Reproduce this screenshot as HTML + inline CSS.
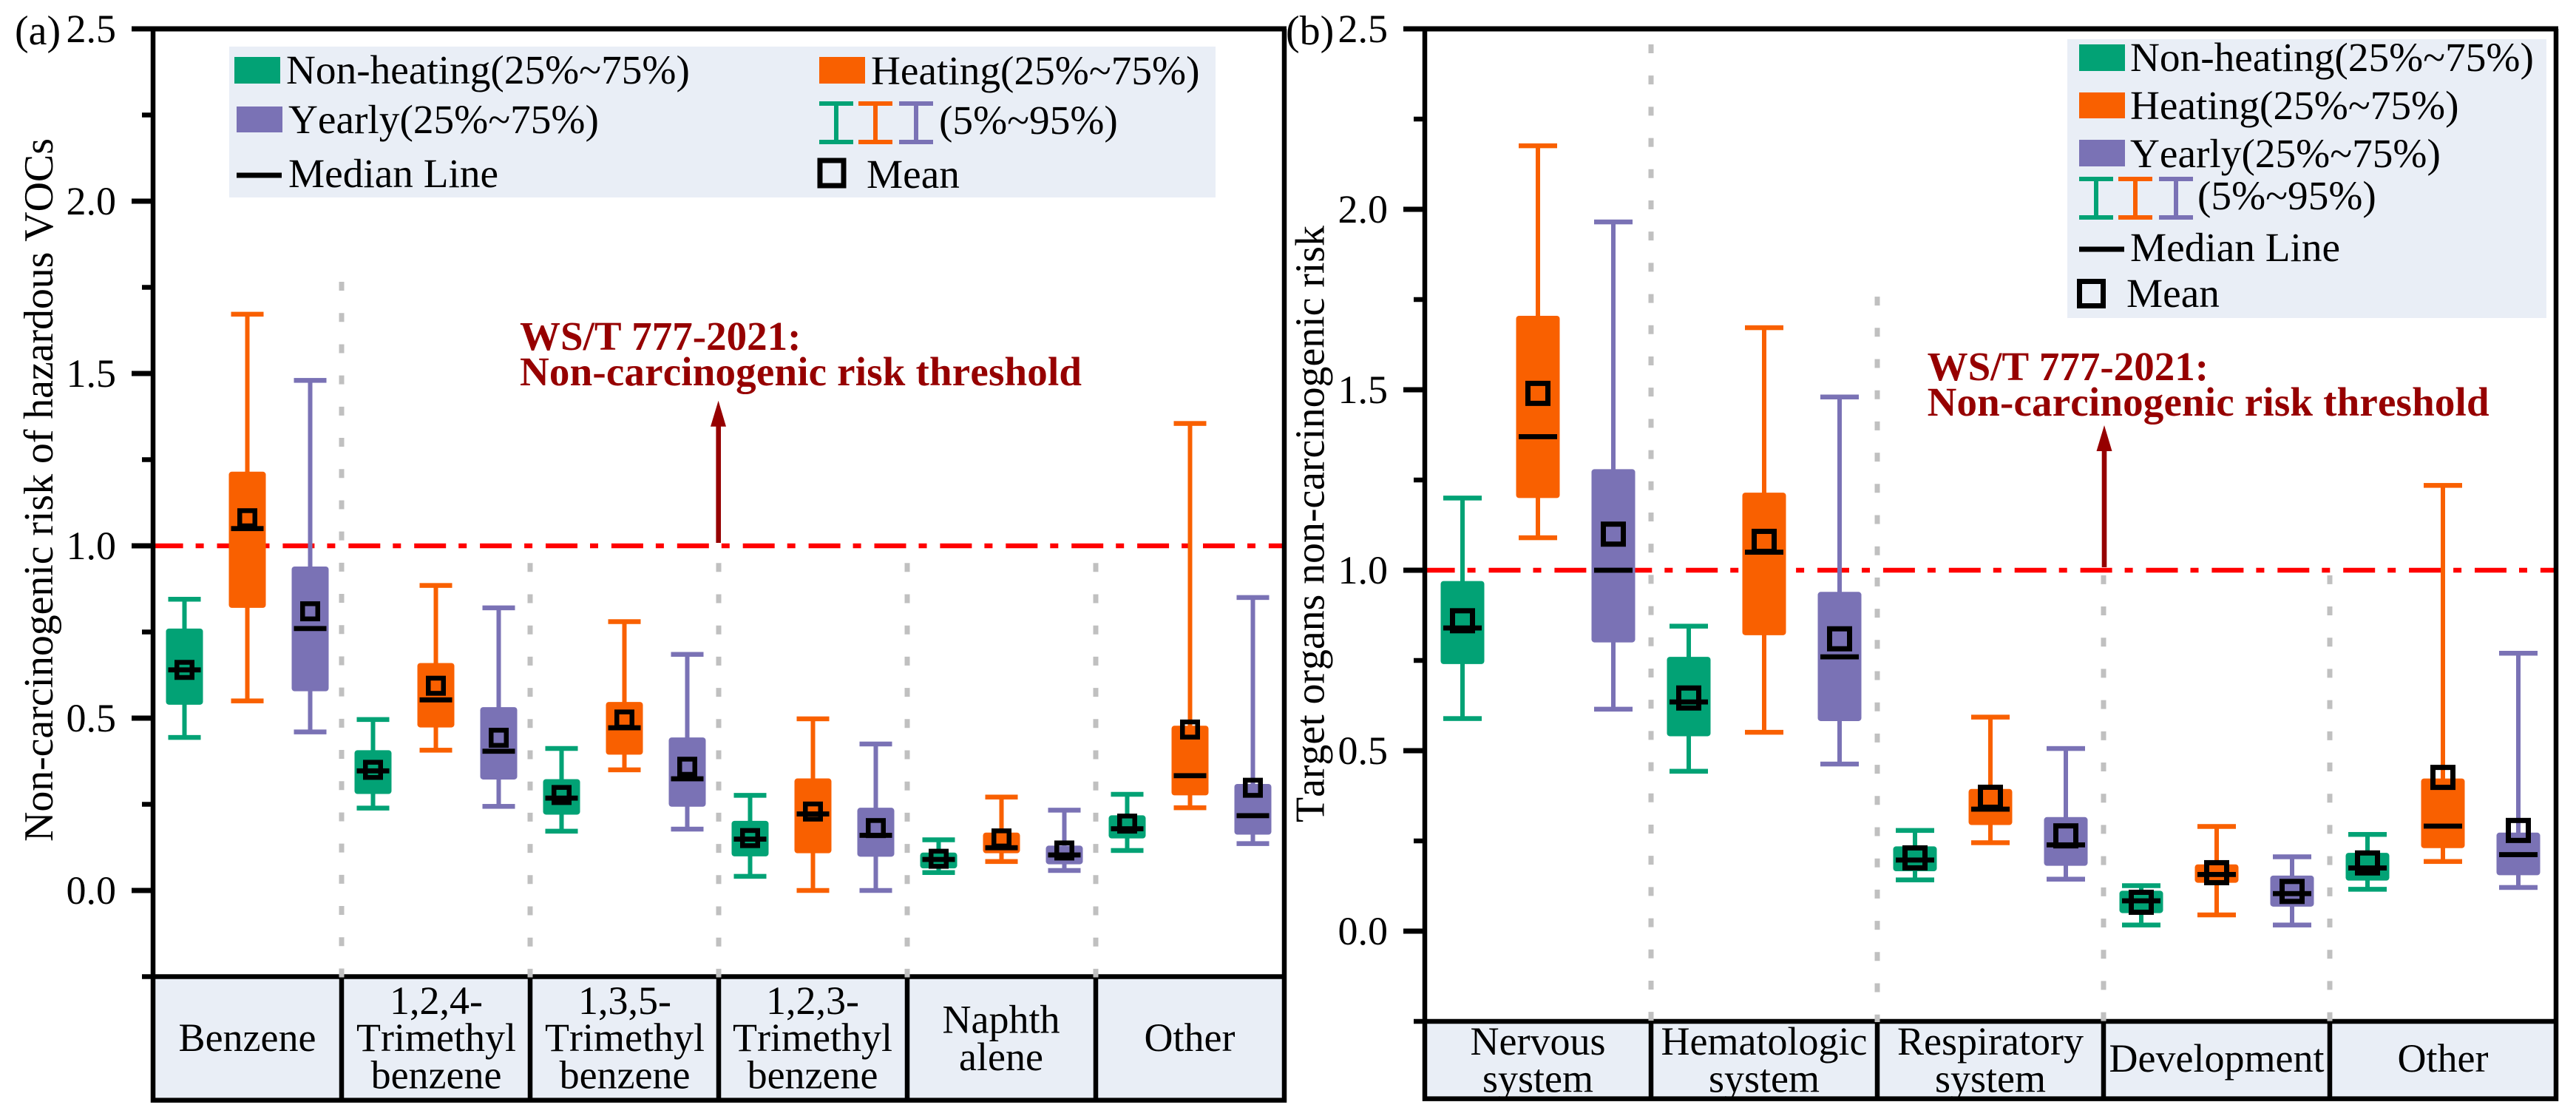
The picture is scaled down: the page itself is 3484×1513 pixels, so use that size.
<!DOCTYPE html>
<html lang="en">
<head>
<meta charset="utf-8">
<title>Non-carcinogenic risk box plots</title>
<style>
html,body{margin:0;padding:0;background:#fff;width:3484px;height:1513px;overflow:hidden}
svg{display:block}
text{font-family:"Liberation Serif",serif;fill:#000;font-kerning:none}
.tick-label,.cat{font-size:54px}
.panel-label{font-size:56px}
.cat{text-anchor:middle}
.leg{font-size:55.3px}
.note{font-size:55px;font-weight:bold;fill:#960000}
.title{font-size:56px}
</style>
</head>
<body>
<svg xmlns="http://www.w3.org/2000/svg" width="3484" height="1513" viewBox="0 0 3484 1513">
<rect width="3484" height="1513" fill="#fff"/>

<g id="panel-a">
  <rect x="207" y="1320" width="1530" height="167" fill="#e9eef6"/>
  <g id="a-marks"></g>
  <g id="a-axes"></g>
  <path d="M971.6 541.7L982 576.7L975 576.7L975 734L968.4 734L968.4 576.7L961 576.7Z" fill="#960000"/>
  <text class="note" x="703" y="473">WS/T 777-2021:</text>
  <text class="note" x="703" y="521" textLength="760">Non-carcinogenic risk threshold</text>
  <text class="title" transform="translate(71 1138) rotate(-90)" textLength="951">Non-carcinogenic risk of hazardous VOCs</text>
  <text class="panel-label" x="20" y="60">(a)</text>

  <g>
    <rect x="310" y="63" width="1334" height="204" fill="#e9eef6"/>
    <rect x="317" y="77" width="62" height="36" fill="#02a275"/>
    <text class="leg" x="387" y="113">Non-heating(25%~75%)</text>
    <rect x="1108" y="77" width="62" height="36" fill="#f96000"/>
    <text class="leg" x="1178" y="114">Heating(25%~75%)</text>
    <rect x="320" y="144" width="62" height="35" fill="#7a72b5"/>
    <text class="leg" x="390" y="180">Yearly(25%~75%)</text>
    <path d="M1108 137h46v6h-20v46h20v6h-46v-6h20v-46h-20z" fill="#02a275"/>
    <path d="M1161 137h46v6h-20v46h20v6h-46v-6h20v-46h-20z" fill="#f96000"/>
    <path d="M1216 137h46v6h-20v46h20v6h-46v-6h20v-46h-20z" fill="#7a72b5"/>
    <text class="leg" x="1270" y="181">(5%~95%)</text>
    <rect x="320" y="233.500" width="61" height="7" fill="#000"/>
    <text class="leg" x="390" y="253">Median Line</text>
    <rect x="1109" y="217" width="32" height="34" fill="none" stroke="#000" stroke-width="7"/>
    <text class="leg" x="1172" y="254">Mean</text>
  </g>

  <g>
    <text class="cat" x="334.500" y="1421">Benzene</text>
    <text class="cat" x="590" y="1371">1,2,4-</text>
    <text class="cat" x="590" y="1421">Trimethyl</text>
    <text class="cat" x="590" y="1471.500">benzene</text>
    <text class="cat" x="845" y="1371">1,3,5-</text>
    <text class="cat" x="845" y="1421">Trimethyl</text>
    <text class="cat" x="845" y="1471.500">benzene</text>
    <text class="cat" x="1099" y="1371">1,2,3-</text>
    <text class="cat" x="1099" y="1421">Trimethyl</text>
    <text class="cat" x="1099" y="1471.500">benzene</text>
    <text class="cat" x="1354" y="1396.500">Naphth</text>
    <text class="cat" x="1354" y="1447">alene</text>
    <text class="cat" x="1609" y="1421">Other</text>
  </g>
</g>

<g id="panel-b">
  <rect x="1927" y="1380" width="1530" height="106" fill="#e9eef6"/>
  <g id="b-marks"></g>
  <g id="b-axes"></g>
  <path d="M2846 575L2856.500 610L2849.300 610L2849.300 767L2842.700 767L2842.700 610L2835.500 610Z" fill="#960000"/>
  <text class="note" x="2606.600" y="514">WS/T 777-2021:</text>
  <text class="note" x="2606.600" y="562" textLength="760">Non-carcinogenic risk threshold</text>
  <text class="title" transform="translate(1790.700 1112) rotate(-90)" textLength="807">Target organs non-carcinogenic risk</text>
  <text class="panel-label" x="1739" y="60">(b)</text>

  <g>
    <rect x="2796" y="53" width="648" height="377" fill="#e9eef6"/>
    <rect x="2812" y="60" width="62" height="36" fill="#02a275"/>
    <text class="leg" x="2881" y="96">Non-heating(25%~75%)</text>
    <rect x="2812" y="125" width="62" height="35" fill="#f96000"/>
    <text class="leg" x="2881" y="161">Heating(25%~75%)</text>
    <rect x="2812" y="189" width="62" height="36" fill="#7a72b5"/>
    <text class="leg" x="2881" y="226">Yearly(25%~75%)</text>
    <path d="M2812 239h46v6h-20v46h20v6h-46v-6h20v-46h-20z" fill="#02a275"/>
    <path d="M2865 239h46v6h-20v46h20v6h-46v-6h20v-46h-20z" fill="#f96000"/>
    <path d="M2920 239h46v6h-20v46h20v6h-46v-6h20v-46h-20z" fill="#7a72b5"/>
    <text class="leg" x="2972" y="283">(5%~95%)</text>
    <rect x="2812" y="333.500" width="61" height="7" fill="#000"/>
    <text class="leg" x="2881" y="353">Median Line</text>
    <rect x="2812.500" y="380.500" width="32" height="33" fill="none" stroke="#000" stroke-width="7"/>
    <text class="leg" x="2876" y="415">Mean</text>
  </g>

  <g>
    <text class="cat" x="2080" y="1426">Nervous</text>
    <text class="cat" x="2080" y="1476.500">system</text>
    <text class="cat" x="2386" y="1426">Hematologic</text>
    <text class="cat" x="2386" y="1476.500">system</text>
    <text class="cat" x="2692" y="1426">Respiratory</text>
    <text class="cat" x="2692" y="1476.500">system</text>
    <text class="cat" x="2998" y="1449">Development</text>
    <text class="cat" x="3304" y="1449">Other</text>
  </g>
</g>

<script>
// ---------- shared axis data ----------
const tickLabels = ["0.0", "0.5", "1.0", "1.5", "2.0", "2.5"];
const majorTicks = [0, 0.5, 1, 1.5, 2, 2.5];
const minorTicks = [-0.25, 0.25, 0.75, 1.25, 1.75, 2.25];
const thresholdValue = 1.0;
const seriesNames = ["non-heating", "heating", "yearly"];
const seriesColors = ["#02a275", "#f96000", "#7a72b5"];

// ---------- panel (a) data ----------
const categoriesA = ["benzene", "124-trimethylbenzene", "135-trimethylbenzene", "123-trimethylbenzene", "naphthalene", "other"];
const dividerTopsA = [1.766, 0.95, 0.95, 0.95, 0.95];

const aNonHeatingLow = [0.444, 0.239, 0.172, 0.041, 0.052, 0.116];
const aNonHeatingQ1 = [0.539, 0.280, 0.220, 0.099, 0.064, 0.151];
const aNonHeatingMedian = [0.640, 0.347, 0.268, 0.149, 0.090, 0.179];
const aNonHeatingQ3 = [0.760, 0.407, 0.323, 0.202, 0.110, 0.218];
const aNonHeatingHigh = [0.845, 0.496, 0.412, 0.276, 0.147, 0.279];
const aNonHeatingMean = [0.640, 0.350, 0.277, 0.152, 0.092, 0.194];

const aHeatingLow = [0.550, 0.407, 0.350, 0.000, 0.084, 0.240];
const aHeatingQ1 = [0.820, 0.473, 0.394, 0.108, 0.108, 0.276];
const aHeatingMedian = [1.050, 0.553, 0.472, 0.222, 0.124, 0.333];
const aHeatingQ3 = [1.215, 0.660, 0.547, 0.325, 0.168, 0.478];
const aHeatingHigh = [1.672, 0.885, 0.780, 0.498, 0.271, 1.355];
const aHeatingMean = [1.080, 0.594, 0.496, 0.229, 0.151, 0.467];

const aYearlyLow = [0.460, 0.244, 0.178, 0.000, 0.058, 0.136];
const aYearlyQ1 = [0.578, 0.322, 0.243, 0.098, 0.076, 0.162];
const aYearlyMedian = [0.760, 0.404, 0.324, 0.160, 0.103, 0.217];
const aYearlyQ3 = [0.940, 0.532, 0.444, 0.240, 0.130, 0.309];
const aYearlyHigh = [1.480, 0.820, 0.685, 0.425, 0.233, 0.850];
const aYearlyMean = [0.810, 0.443, 0.359, 0.181, 0.116, 0.298];

// ---------- panel (b) data ----------
const categoriesB = ["nervous-system", "hematologic-system", "respiratory-system", "development", "other"];
const dividerTopsB = [2.457, 1.758, 0.986, 0.986];

const bNonHeatingLow = [0.589, 0.443, 0.142, 0.017, 0.116];
const bNonHeatingQ1 = [0.740, 0.540, 0.166, 0.050, 0.140];
const bNonHeatingMedian = [0.840, 0.635, 0.197, 0.084, 0.175];
const bNonHeatingQ3 = [0.970, 0.760, 0.235, 0.112, 0.217];
const bNonHeatingHigh = [1.200, 0.845, 0.279, 0.126, 0.268];
const bNonHeatingMean = [0.860, 0.646, 0.203, 0.080, 0.189];

const bHeatingLow = [1.090, 0.551, 0.245, 0.045, 0.193];
const bHeatingQ1 = [1.200, 0.820, 0.294, 0.134, 0.230];
const bHeatingMedian = [1.370, 1.050, 0.338, 0.157, 0.291];
const bHeatingQ3 = [1.705, 1.215, 0.394, 0.185, 0.423];
const bHeatingHigh = [2.176, 1.672, 0.593, 0.290, 1.235];
const bHeatingMean = [1.490, 1.080, 0.371, 0.162, 0.426];

const bYearlyLow = [0.615, 0.463, 0.144, 0.017, 0.121];
const bYearlyQ1 = [0.800, 0.582, 0.181, 0.068, 0.155];
const bYearlyMedian = [1.000, 0.760, 0.239, 0.104, 0.212];
const bYearlyQ3 = [1.280, 0.940, 0.316, 0.154, 0.273];
const bYearlyHigh = [1.965, 1.480, 0.506, 0.206, 0.770];
const bYearlyMean = [1.100, 0.810, 0.264, 0.110, 0.279];

const NS = "http://www.w3.org/2000/svg";

function make(parent, tag, attrs) {
  const el = document.createElementNS(NS, tag);
  for (const k in attrs) el.setAttribute(k, attrs[k]);
  parent.appendChild(el);
  return el;
}

function drawPanel(p) {
  const y = v => p.yZero - v * p.pxPerUnit;
  const band = (p.right - p.left) / p.categories.length;
  const centre = i => p.left + band * (i + 0.5);
  const seriesX = (i, s) => centre(i) + (s - 1) * p.offset;
  const bottom = y(-0.25);
  const marks = document.getElementById(p.id + "-marks");
  const axes = document.getElementById(p.id + "-axes");

  // threshold line sits underneath the boxes
  const red = make(marks, "line", {
    x1: p.left - 2.4, x2: p.right, y1: y(thresholdValue), y2: y(thresholdValue),
    stroke: "#ff0000", "stroke-width": 6.5, "stroke-dasharray": "43 17 11 17.9"
  });
  
  

  // box plots
  p.series.forEach((ser, s) => {
    const color = seriesColors[s];
    p.categories.forEach((cat, i) => {
      const g = make(marks, "g", {});
      
      
      const x = seriesX(i, s);
      const stem = make(g, "line", { x1: x, x2: x, y1: y(ser.high[i]), y2: y(ser.low[i]), stroke: color, "stroke-width": 6 });
      
      
      const capHigh = make(g, "rect", { x: x - p.capWidth / 2, y: y(ser.high[i]) - 3.25, width: p.capWidth, height: 6.5, fill: color });
      
      
      const capLow = make(g, "rect", { x: x - p.capWidth / 2, y: y(ser.low[i]) - 3.25, width: p.capWidth, height: 6.5, fill: color });
      
      
      const box = make(g, "rect", {
        x: x - p.boxWidth / 2, y: y(ser.q3[i]), width: p.boxWidth,
        height: y(ser.q1[i]) - y(ser.q3[i]), rx: 4, ry: 4, fill: color
      });
      
      
      const med = make(g, "rect", { x: x - p.capWidth / 2, y: y(ser.median[i]) - 3.4, width: p.capWidth, height: 6.8, fill: "#000" });
      
      
      const mean = make(g, "rect", {
        x: x - p.meanSize / 2, y: y(ser.mean[i]) - p.meanSize / 2, width: p.meanSize, height: p.meanSize,
        fill: "none", stroke: "#000", "stroke-width": p.meanStroke
      });
      
      
    });
  });

  // frame
  const frame = make(axes, "path", {
    d: "M" + p.left + " " + y(2.5) + "V" + p.tableBottom + "H" + p.right + "V" + y(2.5),
    fill: "none", stroke: "#000", "stroke-width": 6.5
  });
  
  
  const topLine = make(axes, "rect", { x: p.left - 29, y: y(2.5) - 3.5, width: p.right - p.left + 32, height: 7, fill: "#000" });
  
  
  const baseLine = make(axes, "rect", { x: p.left - 15, y: bottom - 3.25, width: p.right - p.left + 15, height: 6.5, fill: "#000" });
  
  

  // ticks and labels
  majorTicks.forEach((v, i) => {
    const t = make(axes, "rect", { x: p.left - 29, y: y(v) - 3.5, width: 29, height: 7, fill: "#000" });
    
    
    const lab = make(axes, "text", { x: p.left - 50, y: y(v) + 18, "text-anchor": "end", "class": "tick-label" });
    
    
    lab.textContent = tickLabels[i];
  });
  minorTicks.slice(1).forEach(v => {
    const t = make(axes, "rect", { x: p.left - 15, y: y(v) - 3.25, width: 15, height: 6.5, fill: "#000" });
    
    
  });

  // category dividers: solid in the table, dashed grey above it
  p.dividerTops.forEach((topV, i) => {
    const x = p.left + band * (i + 1);
    const solid = make(axes, "line", { x1: x, x2: x, y1: bottom, y2: p.tableBottom, stroke: "#000", "stroke-width": 6.5 });
    
    
    const dash = make(axes, "line", {
      x1: x, x2: x, y1: y(topV), y2: bottom + 1,
      stroke: "#c0c0c0", "stroke-width": 7, "stroke-dasharray": "12 30.2"
    });
    
    
  });
}

drawPanel({
  id: "a", categories: categoriesA, dividerTops: dividerTopsA,
  left: 207, right: 1737, tableBottom: 1487.6, yZero: 1204, pxPerUnit: 466,
  offset: 85, boxWidth: 50, capWidth: 44, meanSize: 20.5, meanStroke: 6.5,
  series: [
    { low: aNonHeatingLow, q1: aNonHeatingQ1, median: aNonHeatingMedian, q3: aNonHeatingQ3, high: aNonHeatingHigh, mean: aNonHeatingMean },
    { low: aHeatingLow, q1: aHeatingQ1, median: aHeatingMedian, q3: aHeatingQ3, high: aHeatingHigh, mean: aHeatingMean },
    { low: aYearlyLow, q1: aYearlyQ1, median: aYearlyMedian, q3: aYearlyQ3, high: aYearlyHigh, mean: aYearlyMean }
  ]
});

drawPanel({
  id: "b", categories: categoriesB, dividerTops: dividerTopsB,
  left: 1927, right: 3457, tableBottom: 1485.6, yZero: 1259, pxPerUnit: 488,
  offset: 102, boxWidth: 59, capWidth: 52, meanSize: 27, meanStroke: 7,
  series: [
    { low: bNonHeatingLow, q1: bNonHeatingQ1, median: bNonHeatingMedian, q3: bNonHeatingQ3, high: bNonHeatingHigh, mean: bNonHeatingMean },
    { low: bHeatingLow, q1: bHeatingQ1, median: bHeatingMedian, q3: bHeatingQ3, high: bHeatingHigh, mean: bHeatingMean },
    { low: bYearlyLow, q1: bYearlyQ1, median: bYearlyMedian, q3: bYearlyQ3, high: bYearlyHigh, mean: bYearlyMean }
  ]
});
</script>
</svg>
</body>
</html>
